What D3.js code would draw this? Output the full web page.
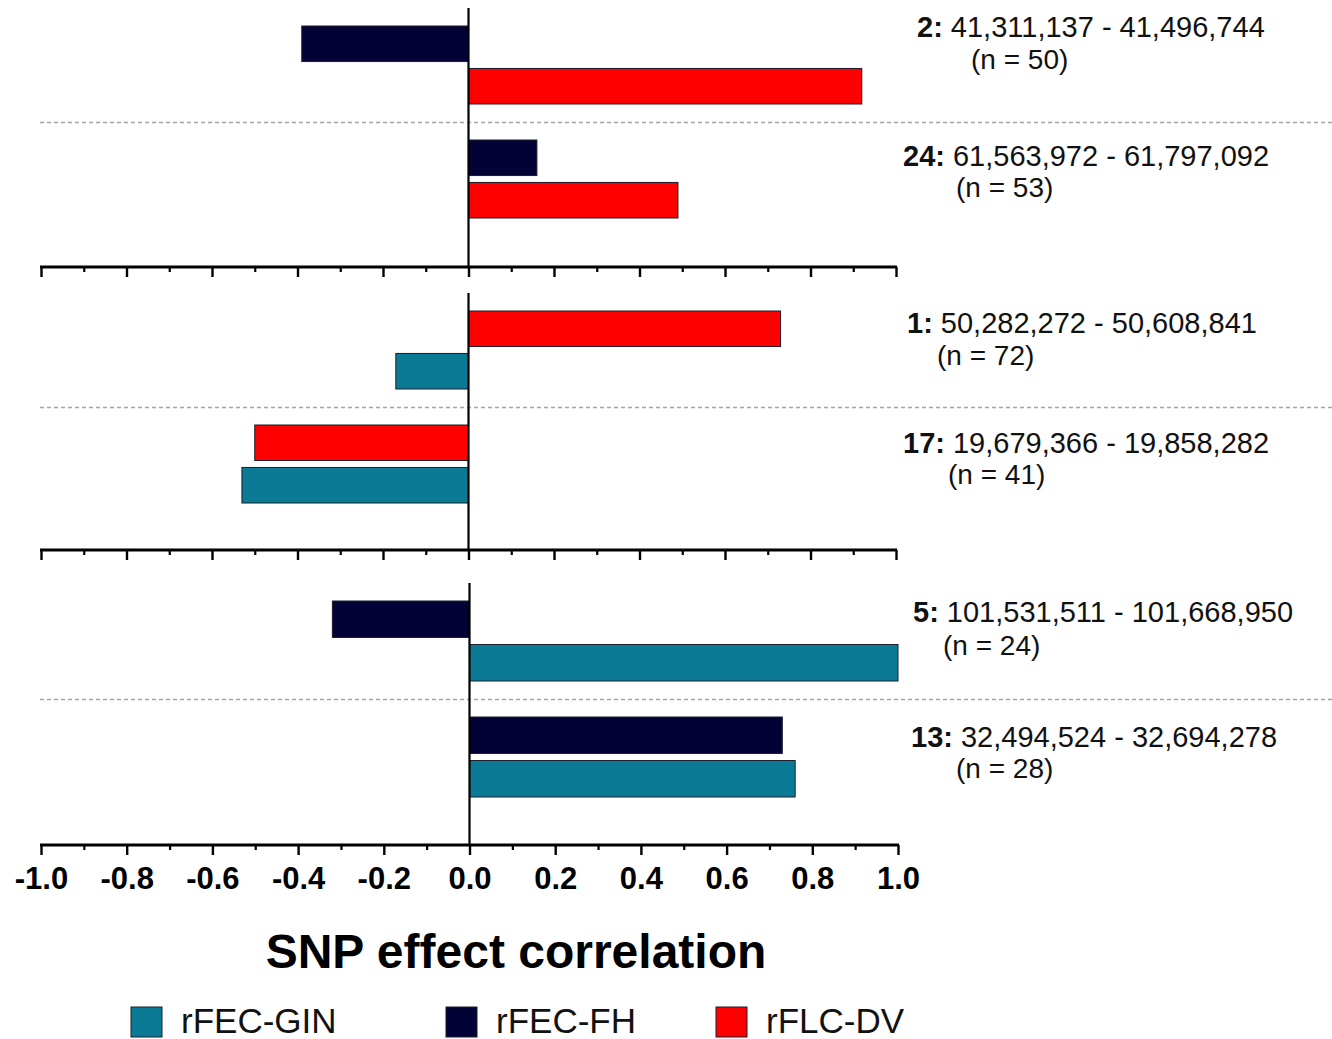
<!DOCTYPE html>
<html>
<head>
<meta charset="utf-8">
<script src="https://cdn.jsdelivr.net/npm/d3@7"></script>
<style>
  html, body { margin: 0; padding: 0; background: #fff; }
  svg { display: block; font-family: "Liberation Sans", Arial, sans-serif; }
</style>
</head>
<body>
<svg id="chart" width="1332" height="1039"></svg>
<script>
// ---------------- DATA ----------------
const chromosomes = ["2", "24", "1", "17", "5", "13"];
const rangeStart = ["41,311,137", "61,563,972", "50,282,272", "19,679,366", "101,531,511", "32,494,524"];
const rangeEnd   = ["41,496,744", "61,797,092", "50,608,841", "19,858,282", "101,668,950", "32,694,278"];
const nSNPs = [50, 53, 72, 41, 24, 28];
const panelIndex = [0, 0, 1, 1, 2, 2];

const seriesNames = ["rFEC-GIN", "rFEC-FH", "rFLC-DV"];
const ginValues = [null, null, -0.17, -0.53, 1.00, 0.76];
const fhValues  = [-0.39, 0.16, null, null, -0.32, 0.73];
const dvValues  = [0.92, 0.49, 0.73, -0.50, null, null];

const majorTicks = [-1.0, -0.8, -0.6, -0.4, -0.2, 0.0, 0.2, 0.4, 0.6, 0.8, 1.0];
const minorTicks = [-0.9, -0.7, -0.5, -0.3, -0.1, 0.1, 0.3, 0.5, 0.7, 0.9];
const tickLabels = ["-1.0", "-0.8", "-0.6", "-0.4", "-0.2", "0.0", "0.2", "0.4", "0.6", "0.8", "1.0"];
const axisTitle = "SNP effect correlation";

// ---------------- LAYOUT / STYLE ----------------
const colors = { "rFEC-GIN": "#0b7b95", "rFEC-FH": "#020236", "rFLC-DV": "#ff0000" };
const panels = [
  { top: 8,   pitch: 114, axisY: 267, x0: 41, x1: 896 },
  { top: 293, pitch: 114, axisY: 550, x0: 41, x1: 896 },
  { top: 583, pitch: 116, axisY: 845, x0: 41, x1: 898 }
];
// label anchor positions (line1 x, line1 baseline, line2 x, line2 baseline)
const labelPos = [
  [917, 37, 971, 69],
  [903, 166, 956, 197],
  [907, 333, 937, 365],
  [903, 453, 948, 484],
  [913, 622, 943, 655],
  [911, 747, 956, 778]
];

// series order within a region: FH, DV, GIN (skip missing)
const seriesOrder = [
  { name: "rFEC-FH", values: fhValues },
  { name: "rFLC-DV", values: dvValues },
  { name: "rFEC-GIN", values: ginValues }
];

const svg = d3.select("#chart");

panels.forEach((p, pi) => {
  const g = svg.append("g");
  const x = d3.scaleLinear().domain([-1, 1]).range([p.x0, p.x1]);
  const regionIdx = chromosomes.map((c, i) => i).filter(i => panelIndex[i] === pi);
  const yGroup = d3.scaleBand().domain(regionIdx).range([p.top, p.top + 2 * p.pitch]).padding(0);
  const ySlot = d3.scaleBand().domain([0, 1]).range([18, p.pitch - 18]).paddingInner(0.1628).paddingOuter(0);

  // separator dashed line
  g.append("line")
    .attr("x1", p.x0 - 1).attr("x2", 1332)
    .attr("y1", p.top + p.pitch + 0.5).attr("y2", p.top + p.pitch + 0.5)
    .attr("stroke", "#a5a5a5").attr("stroke-width", 1.5)
    .attr("stroke-dasharray", "4,3");

  // bars
  regionIdx.forEach(ri => {
    const present = seriesOrder.filter(s => s.values[ri] !== null);
    present.forEach((s, si) => {
      const v = s.values[ri];
      g.append("rect")
        .attr("x", Math.min(x(0), x(v)))
        .attr("width", Math.abs(x(v) - x(0)))
        .attr("y", yGroup(ri) + ySlot(si))
        .attr("height", ySlot.bandwidth())
        .attr("fill", colors[s.name])
        .attr("stroke", "#1c1c2a")
        .attr("stroke-width", 1);
    });

    // labels
    const lp = labelPos[ri];
    const t1 = g.append("text")
      .attr("x", lp[0]).attr("y", lp[1])
      .attr("font-size", 29).attr("fill", "#111");
    t1.append("tspan").attr("font-weight", "bold").text(chromosomes[ri] + ":");
    t1.append("tspan").text(" " + rangeStart[ri] + " - " + rangeEnd[ri]);
    g.append("text")
      .attr("x", lp[2]).attr("y", lp[3])
      .attr("font-size", 28).attr("fill", "#111")
      .text("(n = " + nSNPs[ri] + ")");
  });

  // zero line
  g.append("line")
    .attr("x1", x(0)).attr("x2", x(0))
    .attr("y1", p.top).attr("y2", p.axisY)
    .attr("stroke", "#000").attr("stroke-width", 2.2);

  // minor ticks
  const minorAxis = d3.axisBottom(x).tickValues(minorTicks).tickSize(5).tickSizeOuter(0).tickFormat("");
  const gm = g.append("g").attr("transform", `translate(0,${p.axisY})`).call(minorAxis);
  gm.select(".domain").remove();
  gm.selectAll(".tick line").attr("stroke", "#000").attr("stroke-width", 2.2);

  // major axis
  const majorAxis = d3.axisBottom(x).tickValues(majorTicks).tickSize(10).tickSizeOuter(0)
    .tickFormat((d, i) => pi === 2 ? tickLabels[i] : "");
  const ga = g.append("g").attr("transform", `translate(0,${p.axisY})`).call(majorAxis);
  ga.select(".domain").attr("stroke", "#000").attr("stroke-width", 2.8).attr("d", `M${p.x0 - 1},0H${p.x1 + 1}`);
  ga.selectAll(".tick line").attr("stroke", "#000").attr("stroke-width", 2.4);
  ga.selectAll(".tick text")
    .attr("y", 44).attr("dy", 0)
    .attr("font-size", 31).attr("font-weight", "bold")
    .attr("font-family", "Liberation Sans, Arial, sans-serif")
    .attr("fill", "#000");
});

// axis title
svg.append("text")
  .attr("x", 516).attr("y", 968)
  .attr("text-anchor", "middle")
  .attr("font-size", 48).attr("font-weight", "bold").attr("fill", "#000")
  .text(axisTitle);

// legend
const legendX = [131, 446, 716];
seriesNames.forEach((s, i) => {
  svg.append("rect")
    .attr("x", legendX[i]).attr("y", 1007)
    .attr("width", 31).attr("height", 30)
    .attr("fill", colors[s]).attr("stroke", "#1c1c2a").attr("stroke-width", 1);
  svg.append("text")
    .attr("x", legendX[i] + 50).attr("y", 1033)
    .attr("font-size", 35).attr("fill", "#111")
    .text(s);
});
</script>
</body>
</html>
